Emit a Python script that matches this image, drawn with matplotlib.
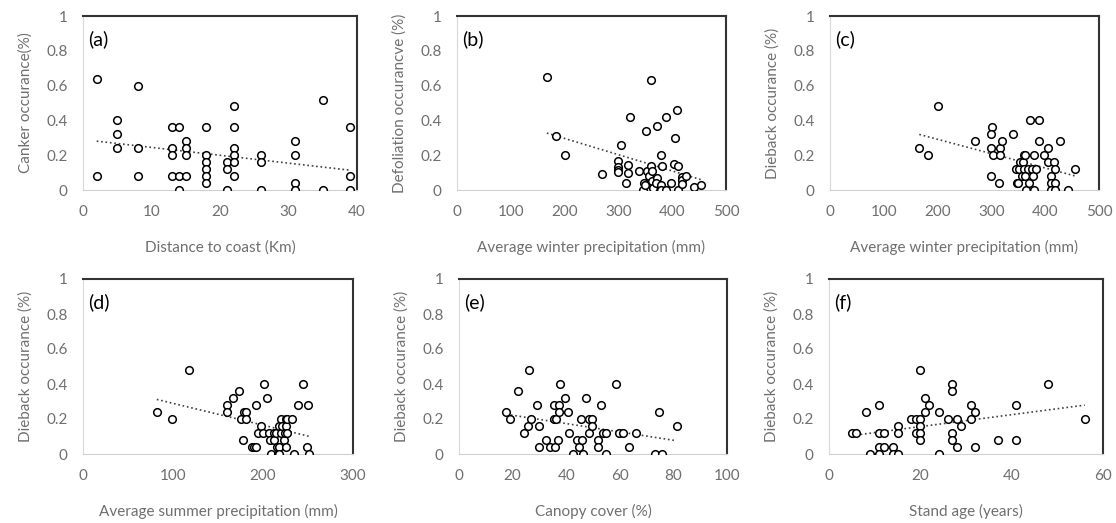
import numpy as np
import matplotlib.pyplot as plt

plt.rcParams['font.family'] = ['Lato', 'DejaVu Sans']

# (a) canker vs distance to coast
a_x = [2, 2, 5, 5, 5, 8, 8, 8, 13, 14, 13, 13, 13, 14, 14, 15, 15, 15, 15,
       18, 18, 18, 18, 18, 18, 21, 21, 21, 22, 22, 22, 22, 22, 22,
       26, 26, 26, 31, 31, 31, 31, 35, 35, 39, 39, 39]
a_y = [0.64, 0.08, 0.40, 0.32, 0.24, 0.60, 0.24, 0.08, 0.36, 0.36, 0.24, 0.20, 0.08, 0.08, 0.0,
       0.28, 0.24, 0.20, 0.08, 0.36, 0.20, 0.16, 0.12, 0.08, 0.04, 0.16, 0.12, 0.0,
       0.48, 0.36, 0.24, 0.20, 0.16, 0.08, 0.20, 0.16, 0.0, 0.28, 0.20, 0.04, 0.0,
       0.52, 0.0, 0.36, 0.08, 0.0]

# (b) defoliation vs winter precipitation
b_x = [167, 184, 201, 270, 304, 300, 300, 300, 300, 314, 317, 317, 321, 339, 345, 351, 348,
       350, 354, 356, 361, 360, 362, 363, 364, 371, 372, 370, 379, 381, 380, 380, 388, 389,
       398, 403, 406, 409, 410, 410, 418, 418, 418, 425, 441, 453]
b_y = [0.65, 0.31, 0.20, 0.09, 0.26, 0.165, 0.135, 0.115, 0.105, 0.04, 0.145, 0.095, 0.42,
       0.11, 0.0, 0.34, 0.04, 0.03, 0.11, 0.08, 0.63, 0.14, 0.11, 0.05, 0.01, 0.37, 0.07, 0.04,
       0.20, 0.14, 0.03, 0.0, 0.0, 0.42, 0.04, 0.15, 0.30, 0.46, 0.14, 0.0, 0.075, 0.055,
       0.035, 0.08, 0.02, 0.03]

# (c) dieback vs winter precipitation
c_x = [166, 183, 200, 270, 301, 300, 300, 303, 300, 315, 316, 316, 320, 340, 345, 348, 350,
       352, 354, 356, 358, 360, 360, 362, 363, 365, 368, 370, 372, 375, 378, 380, 380, 383,
       388, 388, 397, 405, 405, 410, 410, 410, 417, 418, 418, 418, 427, 442, 455]
c_y = [0.24, 0.20, 0.48, 0.28, 0.36, 0.32, 0.24, 0.20, 0.08, 0.04, 0.24, 0.20, 0.28, 0.32,
       0.12, 0.04, 0.04, 0.12, 0.16, 0.08, 0.16, 0.20, 0.12, 0.08, 0.20, 0.0, 0.12, 0.04,
       0.40, 0.12, 0.08, 0.20, 0.0, 0.12, 0.40, 0.28, 0.20, 0.24, 0.16, 0.08, 0.04, 0.0,
       0.16, 0.12, 0.04, 0.0, 0.28, 0.0, 0.12]

# (d) dieback vs summer precipitation
d_x = [82, 99, 118, 160, 160, 167, 173, 175, 178, 179, 181, 181, 188, 190, 192, 192, 194,
       198, 201, 200, 204, 207, 208, 209, 212, 212, 214, 216, 217, 218, 218, 220, 218, 220,
       221, 223, 224, 225, 225, 226, 227, 227, 232, 234, 239, 244, 250, 249, 251]
d_y = [0.24, 0.20, 0.48, 0.28, 0.24, 0.32, 0.36, 0.20, 0.08, 0.24, 0.24, 0.20, 0.04, 0.04,
       0.04, 0.28, 0.12, 0.16, 0.40, 0.12, 0.32, 0.12, 0.08, 0.0, 0.12, 0.08, 0.12, 0.04,
       0.0, 0.16, 0.04, 0.12, 0.0, 0.20, 0.16, 0.08, 0.12, 0.20, 0.16, 0.04, 0.20, 0.12,
       0.20, 0.0, 0.28, 0.40, 0.28, 0.04, 0.0]

# (e) dieback vs canopy cover
e_x = [17.7, 19.2, 22.2, 24.1, 26.2, 25.9, 26.8, 29, 29.9, 30, 32.4, 34, 35.4, 35.5, 36,
       36.2, 36.8, 37.2, 37.4, 37.7, 39.5, 40.6, 40.9, 42.5, 43.9, 44.9, 45.4, 45.9, 46.4,
       47.3, 48.4, 48.4, 49.8, 49.8, 51.7, 51.9, 53, 53.6, 55, 54.9, 58.5, 59.6, 61.3, 63.6,
       66.1, 73.2, 74.6, 75.7, 81.2]
e_y = [0.24, 0.20, 0.36, 0.12, 0.48, 0.16, 0.20, 0.28, 0.16, 0.04, 0.08, 0.04, 0.28, 0.20,
       0.04, 0.20, 0.08, 0.28, 0.24, 0.40, 0.32, 0.24, 0.12, 0.0, 0.08, 0.04, 0.20, 0.08,
       0.0, 0.32, 0.12, 0.20, 0.20, 0.16, 0.08, 0.04, 0.28, 0.12, 0.12, 0.0, 0.40, 0.12,
       0.12, 0.04, 0.12, 0.0, 0.24, 0.0, 0.16]

# (f) dieback vs stand age
f_x = [5, 6, 8, 9, 11, 11, 11, 11, 12, 12, 14, 14, 15, 15, 15, 18, 19, 19, 20, 20, 20, 20,
       20, 21, 21, 22, 24, 24, 26, 27, 27, 27, 27, 28, 28, 29, 31, 31, 32, 32, 37, 41, 41,
       48, 56]
f_y = [0.12, 0.12, 0.24, 0.0, 0.28, 0.12, 0.04, 0.0, 0.12, 0.04, 0.04, 0.0, 0.16, 0.12,
       0.0, 0.20, 0.20, 0.12, 0.48, 0.20, 0.16, 0.12, 0.08, 0.32, 0.24, 0.28, 0.24, 0.0,
       0.20, 0.40, 0.36, 0.12, 0.08, 0.20, 0.04, 0.16, 0.28, 0.20, 0.24, 0.04, 0.08, 0.28,
       0.08, 0.40, 0.20]

panels = [
    ('(a)', a_x, a_y, 40, 10, 'Distance to coast (Km)', 'Canker occurance(%)'),
    ('(b)', b_x, b_y, 500, 100, 'Average winter precipitation (mm)', 'Defoliation occurancve (%)'),
    ('(c)', c_x, c_y, 500, 100, 'Average winter precipitation (mm)', 'Dieback occurance (%)'),
    ('(d)', d_x, d_y, 300, 100, 'Average summer precipitation (mm)', 'Dieback occurance (%)'),
    ('(e)', e_x, e_y, 100, 20, 'Canopy cover (%)', 'Dieback occurance (%)'),
    ('(f)', f_x, f_y, 60, 20, 'Stand age (years)', 'Dieback occurance (%)'),
]

# axes boxes in pixels: left, right, top, bottom
boxes = [(83, 357, 16, 190), (457, 726, 16, 190), (830, 1099, 16, 190),
         (83, 353, 279, 454), (459, 727, 279, 454), (829, 1103, 279, 454)]

W, H = 1116, 523
fig = plt.figure(figsize=(W / 100, H / 100), dpi=100)
grey = '#6f6f6f'

for (tag, xs, ys, xmax, xstep, xlab, ylab), (l, r, t, b) in zip(panels, boxes):
    ax = fig.add_axes([l / W, 1 - b / H, (r - l) / W, (b - t) / H])
    xs = np.array(xs, dtype=float)
    ys = np.array(ys, dtype=float)
    ax.scatter(xs, ys, s=30, facecolors='white', edgecolors='black', linewidths=1.1, zorder=3)
    k, c0 = np.polyfit(xs, ys, 1)
    xx = np.array([xs.min(), xs.max()])
    ax.plot(xx, k * xx + c0, ls=':', color='#404040', lw=1.2, zorder=2)

    ax.set_xlim(0, xmax)
    ax.set_ylim(0, 1)
    ax.set_xticks(np.arange(0, xmax + 1, xstep))
    ax.set_yticks([0, 0.2, 0.4, 0.6, 0.8, 1])
    ax.set_yticklabels(['0', '0.2', '0.4', '0.6', '0.8', '1'])
    ax.tick_params(length=0, labelsize=11, labelcolor=grey)
    ax.tick_params(axis='x', pad=11)
    ax.tick_params(axis='y', pad=11)
    ax.set_xlabel(xlab, fontsize=11, color=grey, labelpad=15)
    ax.set_ylabel(ylab, fontsize=11, color=grey, labelpad=10)
    ax.text(0.02, 0.92, tag, transform=ax.transAxes, fontsize=14, va='top', ha='left')

    for s in ('top', 'right'):
        ax.spines[s].set_color('#333333')
        ax.spines[s].set_linewidth(1.5)
    ax.spines['bottom'].set_color('#d0d0d0')
    ax.spines['left'].set_color('#d9d9d9')

fig.savefig('out.png', dpi=100)
